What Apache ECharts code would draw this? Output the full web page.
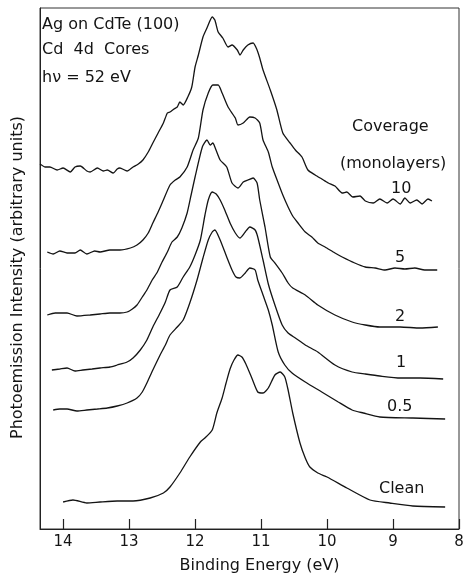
<!DOCTYPE html>
<html>
<head>
<meta charset="utf-8">
<script src="https://cdn.jsdelivr.net/npm/echarts@6/dist/echarts.min.js"></script>
<style>html,body{margin:0;padding:0;background:#fff}#c{width:463px;height:577px}</style>
</head>
<body>
<div id="c"></div>
<script>
// Binding energy (eV) and photoemission intensity (arbitrary units)
const e10 = [14.35,14.27,14.20,14.09,14.00,13.89,13.82,13.74,13.64,13.59,13.48,13.39,13.33,13.24,13.18,13.14,13.03,12.94,12.86,12.79,12.71,12.64,12.56,12.48,12.42,12.38,12.32,12.27,12.23,12.18,12.11,12.05,12.00,11.95,11.88,11.82,11.74,11.70,11.65,11.58,11.50,11.44,11.36,11.32,11.27,11.20,11.12,11.06,11.02,10.97,10.86,10.76,10.67,10.56,10.48,10.38,10.29,10.18,10.08,9.98,9.88,9.77,9.70,9.61,9.50,9.42,9.30,9.20,9.09,9.00,8.89,8.82,8.74,8.64,8.56,8.47,8.41];
const i10 = [365,362,362,359,361,357,362,363,358,357,361,358,359,356,360,361,358,362,365,369,377,386,396,406,416,417,420,422,427,424,432,442,462,474,492,501,512,509,497,491,482,484,479,474,479,484,486,479,471,459,439,419,396,386,379,372,359,354,350,346,343,336,337,332,333,328,326,330,326,330,325,331,326,329,325,330,328];

const e5 = [14.24,14.15,14.05,13.94,13.82,13.74,13.64,13.52,13.44,13.29,13.14,12.98,12.88,12.79,12.71,12.64,12.56,12.48,12.38,12.30,12.23,12.12,12.03,11.95,11.88,11.80,11.73,11.65,11.59,11.50,11.39,11.35,11.27,11.17,11.09,11.02,10.97,10.89,10.83,10.74,10.67,10.59,10.52,10.44,10.33,10.23,10.14,10.03,9.88,9.77,9.58,9.42,9.27,9.12,8.97,8.82,8.67,8.52,8.33];
const i5 = [277,275,278,276,276,279,275,278,277,279,279,281,284,289,296,306,317,329,344,349,352,362,379,391,419,436,444,444,436,422,411,404,406,412,411,406,389,377,362,346,334,322,313,306,297,292,286,282,276,272,266,262,261,259,261,260,261,259,259];

const e2 = [14.24,14.12,13.94,13.79,13.59,13.44,13.29,13.14,13.03,12.95,12.88,12.80,12.73,12.65,12.58,12.50,12.42,12.35,12.27,12.20,12.12,12.06,12.00,11.89,11.82,11.77,11.73,11.70,11.62,11.52,11.44,11.35,11.27,11.20,11.12,11.06,11.02,10.94,10.86,10.79,10.68,10.59,10.52,10.33,10.14,9.88,9.62,9.42,9.20,8.89,8.59,8.32];
const i2 = [214,216,216,213,214,215,216,216,217,220,224,232,239,249,256,267,277,287,292,301,316,334,352,382,389,384,386,382,369,362,346,341,347,349,351,346,329,302,272,266,256,246,241,234,224,214,207,204,202,202,201,202];

const e1 = [14.17,14.05,13.94,13.82,13.70,13.56,13.44,13.29,13.18,13.03,12.94,12.83,12.73,12.64,12.53,12.45,12.38,12.27,12.18,12.08,12.00,11.92,11.85,11.80,11.74,11.68,11.62,11.55,11.47,11.39,11.32,11.24,11.17,11.09,11.05,10.97,10.89,10.79,10.68,10.59,10.48,10.33,10.14,9.88,9.62,9.42,9.20,8.89,8.59,8.24];
const i1 = [159,160,161,158,159,160,161,162,164,167,171,179,189,202,216,227,239,242,252,262,274,289,314,329,337,335,329,319,306,296,291,297,302,299,292,269,245,224,204,196,191,184,177,164,157,155,153,151,151,150];

const e05 = [14.15,14.05,13.94,13.79,13.64,13.48,13.33,13.18,13.03,12.88,12.80,12.73,12.64,12.53,12.45,12.38,12.27,12.18,12.08,11.97,11.88,11.80,11.74,11.70,11.62,11.52,11.44,11.38,11.32,11.24,11.17,11.09,11.05,10.97,10.89,10.83,10.74,10.64,10.53,10.33,10.08,9.83,9.62,9.45,9.20,8.70,8.21];
const i05 = [119,120,120,118,119,120,121,123,126,131,137,146,159,174,184,194,202,209,226,249,271,289,297,299,289,272,259,252,251,256,261,259,249,234,219,204,177,164,156,147,137,127,119,116,112,111,110];

const eClean = [14.00,13.85,13.64,13.44,13.18,12.94,12.68,12.48,12.38,12.23,12.08,11.92,11.85,11.74,11.67,11.59,11.53,11.47,11.41,11.35,11.29,11.23,11.14,11.05,10.97,10.89,10.79,10.71,10.64,10.59,10.52,10.41,10.33,10.26,10.14,10.00,9.70,9.35,9.05,8.70,8.21];
const iClean = [27,29,26,27,28,28,31,36,42,56,72,87,91,99,116,131,146,160,169,174,172,165,151,137,136,141,154,157,152,139,116,86,71,62,56,52,41,29,26,23,22];

const coverageLabels = ['10','5','2','1','0.5','Clean'];
const xTicks = [8,9,10,11,12,13,14];

const zip = (a, b) => a.map((v, k) => [v, b[k]]);
const curves = [[e10,i10],[e5,i5],[e2,i2],[e1,i1],[e05,i05],[eClean,iClean]];

const FONT = 'DejaVu Sans';
const INK = '#141414';

const chart = echarts.init(document.getElementById('c'), null, {renderer: 'canvas'});
chart.setOption({
  animation: false,
  backgroundColor: '#fff',
  grid: {left: 40, right: 4, top: 8, bottom: 48, outerBoundsMode: 'none', containLabel: false,
    show: true, borderColor: '#333', borderWidth: 1},
  xAxis: {
    type: 'value', inverse: true, min: 8, max: 14.35, interval: 1,
    name: 'Binding Energy (eV)', nameLocation: 'middle', nameGap: 29,
    nameTextStyle: {fontFamily: FONT, fontSize: 16, color: INK, padding: [0,0,0,20]},
    axisLine: {show: true, lineStyle: {color: '#222', width: 1}},
    axisTick: {show: true, inside: true, length: 10, lineStyle: {color: '#222', width: 1.2},
      customValues: xTicks},
    axisLabel: {fontFamily: FONT, fontSize: 15, color: INK, margin: 6,
      customValues: xTicks,
      formatter: v => (Math.abs(v - Math.round(v)) < 1e-6 ? String(Math.round(v)) : '')},
    splitLine: {show: false}
  },
  yAxis: {
    type: 'value', min: 0, max: 521,
    name: 'Photoemission Intensity (arbitrary units)', nameLocation: 'middle', nameGap: 14, nameRotate: 90,
    nameTextStyle: {fontFamily: FONT, fontSize: 16, color: INK, padding: [0,18,0,0]},
    axisLine: {show: true, lineStyle: {color: '#222', width: 1}},
    axisTick: {show: false}, axisLabel: {show: false}, splitLine: {show: false}
  },
  series: curves.map((c, k) => ({
    type: 'line', name: coverageLabels[k], data: zip(c[0], c[1]),
    showSymbol: false, smooth: 0.2,
    lineStyle: {color: INK, width: 1.3}
  })),
  graphic: [
    {type: 'text', left: 42, top: 17, style: {text: 'Ag on CdTe (100)', font: '16px "DejaVu Sans"', fill: INK}},
    {type: 'text', left: 42, top: 42, style: {text: 'Cd  4d  Cores', font: '16px "DejaVu Sans"', fill: INK}},
    {type: 'text', left: 42, top: 70, style: {text: 'h\u03BD = 52 eV', font: '16px "DejaVu Sans"', fill: INK}},
    {type: 'text', left: 352, top: 119, style: {text: 'Coverage', font: '16px "DejaVu Sans"', fill: INK}},
    {type: 'text', left: 340, top: 156, style: {text: '(monolayers)', font: '16px "DejaVu Sans"', fill: INK}},
    {type: 'text', left: 391, top: 181, style: {text: '10', font: '16px "DejaVu Sans"', fill: INK}},
    {type: 'text', left: 395, top: 250, style: {text: '5', font: '16px "DejaVu Sans"', fill: INK}},
    {type: 'text', left: 395, top: 309, style: {text: '2', font: '16px "DejaVu Sans"', fill: INK}},
    {type: 'text', left: 396, top: 355, style: {text: '1', font: '16px "DejaVu Sans"', fill: INK}},
    {type: 'text', left: 387, top: 399, style: {text: '0.5', font: '16px "DejaVu Sans"', fill: INK}},
    {type: 'text', left: 379, top: 481, style: {text: 'Clean', font: '16px "DejaVu Sans"', fill: INK}}
  ]
});
</script>
</body>
</html>
